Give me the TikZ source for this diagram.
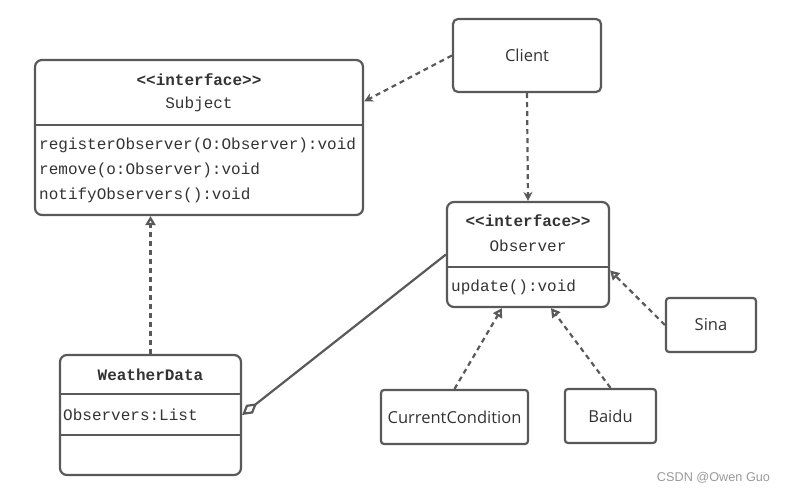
\documentclass[tikz,border=0pt]{standalone}
\usepackage{fontspec}
\setmonofont{Liberation Mono}
\setsansfont{Open Sans}
\usetikzlibrary{arrows.meta}

\definecolor{umlgray}{HTML}{595959}
\definecolor{umltext}{HTML}{333333}

\begin{document}
\begin{tikzpicture}[
		x = 1pt, y = -1pt,
		umlbox/.style = {draw = umlgray, line width = 2.2pt, rounded corners = 7pt, inner sep = 0pt},
		leafbox/.style = {draw = umlgray, line width = 2.2pt, rounded corners = 3pt, inner sep = 0pt, font = \sffamily\fontsize{16.5}{19}\selectfont, text = umltext},
		mono/.style = {inner sep = 0pt, font = \ttfamily\fontsize{16}{19}\selectfont, text = umltext},
		divider/.style = {draw = umlgray, line width = 2.2pt},
		depends/.style = {draw = umlgray, line width = 2.2pt, dash pattern = on 5pt off 4pt, -{Stealth[length = 9pt, width = 9pt, inset = 3pt]}},
		realizes/.style = {draw = umlgray, line width = 2.2pt, dash pattern = on 5pt off 4pt, -{Triangle[open, length = 9pt, width = 10pt]}},
		aggregates/.style = {draw = umlgray, line width = 2.2pt, -{Diamond[open, length = 19pt, width = 11pt]}}
	]
	\useasboundingbox (0,0) rectangle (785,494);

	% class boxes
	\node (subject) [umlbox, minimum width = 328, minimum height = 155] at (199,137.5) {};
	\node (observer) [umlbox, minimum width = 162, minimum height = 105] at (528,254.5) {};
	\node (weather) [umlbox, minimum width = 181, minimum height = 120] at (150.5,415) {};
	\node (client) [leafbox, rounded corners = 5pt, minimum width = 148, minimum height = 73] at (527,55.5) {Client};
	\node (sina) [leafbox, minimum width = 90, minimum height = 54] at (711,325) {Sina};
	\node (current) [leafbox, minimum width = 147, minimum height = 54] at (454.5,417) {CurrentCondition};
	\node (baidu) [leafbox, minimum width = 91, minimum height = 54] at (610.5,416) {Baidu};

	% compartments
	\draw [divider] ([yshift = -66]subject.north west) -- ([yshift = -66]subject.north east);
	\draw [divider] ([yshift = -66]observer.north west) -- ([yshift = -66]observer.north east);
	\draw [divider] ([yshift = -40]weather.north west) -- ([yshift = -40]weather.north east);
	\draw [divider] ([yshift = -81]weather.north west) -- ([yshift = -81]weather.north east);

	% texts
	\node (subjectstereo) [mono, font = \ttfamily\bfseries\fontsize{16}{19}\selectfont] at (199,80) {<<interface>>};
	\node (subjectname) [mono] at (199,104) {Subject};
	\node (register) [mono, anchor = west] at (39,145) {registerObserver(O:Observer):void};
	\node (remove) [mono, anchor = west] at (39,170) {remove(o:Observer):void};
	\node (notify) [mono, anchor = west] at (39,195) {notifyObservers():void};
	\node (observerstereo) [mono, font = \ttfamily\bfseries\fontsize{16}{19}\selectfont] at (528,221) {<<interface>>};
	\node (observername) [mono] at (528,246) {Observer};
	\node (update) [mono, anchor = west] at (451,287) {update():void};
	\node (weathername) [mono, font = \ttfamily\bfseries\fontsize{16}{19}\selectfont] at (150.5,375) {WeatherData};
	\node (observers) [mono, anchor = west] at (63,415) {Observers:List};

	\node (mark) [inner sep = 0pt, text = black!40, font = \fontspec{Liberation Sans}\fontsize{12.7}{15}\selectfont] at (713.5,478) {CSDN @Owen Guo};

	% relations
	\path
	(client.west) edge [depends] ([yshift = 36]subject.east)
	(client.south) edge [depends] (observer.north)
	(weather.north) edge [realizes] (weather.north |- subject.south)
	(current.north) edge [realizes] ([xshift = -26]observer.south)
	(baidu.north) edge [realizes] ([xshift = 23]observer.south)
	(sina.west) edge [realizes] ([yshift = -16]observer.east)
	(observer.west) edge [aggregates] (weather.east);
\end{tikzpicture}
\end{document}
